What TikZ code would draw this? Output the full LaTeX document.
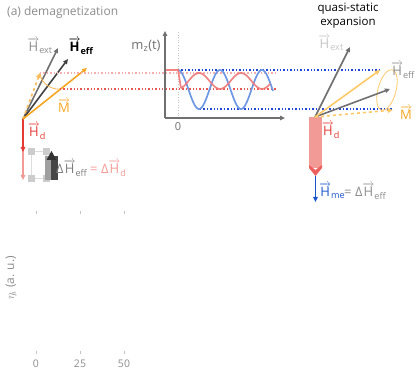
\documentclass[tikz,border=0pt]{standalone}
\usepackage{fontspec}
\setmainfont{Open Sans}
\usepackage{amsmath}
\usetikzlibrary{arrows.meta,shapes.geometric}
\definecolor{tgray}{HTML}{8C8C8C}
\definecolor{agray}{HTML}{707070}
\definecolor{dgray}{HTML}{404040}
\definecolor{lgray}{HTML}{C4C4C4}
\definecolor{orng}{HTML}{F5A623}
\definecolor{lorng}{HTML}{FFC868}
\definecolor{hred}{HTML}{E53935}
\definecolor{pinkr}{HTML}{F29A96}
\definecolor{plotred}{HTML}{F07676}
\definecolor{plotblue}{HTML}{6E98E4}
\definecolor{dblue}{HTML}{2147D8}
\definecolor{meblue}{HTML}{1A56CC}
\newcommand{\vH}{$\overrightarrow{\text{H}}$}
\newcommand{\vM}{$\overrightarrow{\text{M}}$}
\begin{document}
\begin{tikzpicture}[x=1pt,y=-1pt,
  font=\fontsize{13}{15}\selectfont,
  tip/.style={-{Triangle[length=5pt,width=4.5pt]}},
  vecarrow/.style={tip,line width=1.6pt},
  lbl/.style={inner sep=0pt,anchor=center},
  dotline/.style={line width=1.4pt,dotted},
  tick/.style={lgray,line width=0.6pt}]
\useasboundingbox (0,0) rectangle (415,390);

% title
\node[lbl,tgray,font=\fontsize{12}{14}\selectfont,anchor=west] (title) at (7,12) {(a) demagnetization};

% ---------- left vector diagram ----------
\coordinate (O) at (23,119);
\coordinate (hext) at (58,48);
\coordinate (heff) at (68,59);
\coordinate (mtip) at (87,68);
\coordinate (mdash) at (40,73);
\coordinate (mcone) at (60,89);
\coordinate (hdtip) at (23,152);
\coordinate (hdlong) at (23,180);

\draw[vecarrow,pinkr,line width=1.2pt] (O) -- (hdlong);
\draw[vecarrow,hred] (O) -- (hdtip);
\draw[vecarrow,agray] (O) -- (hext);
\draw[vecarrow,dgray] (O) -- (heff);
\draw[vecarrow,orng!75,dashed] (O) -- (mdash);
\draw[orng!80,line width=0.8pt] (mdash) .. controls (41,84) and (52,90) .. (mcone);
\draw[vecarrow,orng] (O) -- (mtip);

\node[lbl,tgray] (lhext) at (40,46) {\vH\textsubscript{ext}};
\node[lbl,black,font=\fontsize{13}{15}\bfseries] (lheff) at (81,46) {\vH\textsubscript{eff}};
\node[lbl,orng] (lm) at (64,106) {\vM};
\node[lbl,hred] (lhd) at (37,131) {\vH\textsubscript{d}};

% gray block with handles
\draw[lgray!60,line width=0.5pt] (31.5,151.5) rectangle (46.5,178.5);
\foreach \p/\n in {{(31.5,151.5)}/ha,{(46.5,151.5)}/hb,{(31.5,178.5)}/hc,{(46.5,178.5)}/hd}
  \node[fill=gray!40,minimum size=7pt,inner sep=0pt] (\n) at \p {};
\fill[gray!75] (45,156) rectangle (58,180);
\fill[gray!55!black] (51,180) rectangle (58,156);
\fill[black!80] (46.5,160) -- (51.5,151) -- (56.5,160) -- cycle;

\node[lbl,anchor=west,tgray!90!black] (ldheff) at (56,168) {Δ\vH\textsubscript{eff}};
\node[lbl,anchor=west,pinkr] (ldhd) at (90,168) {= Δ\vH\textsubscript{d}};

% ---------- plot ----------
\coordinate (ax0) at (165,118);
\coordinate (axy) at (165,31);
\coordinate (axx) at (285,118);
\draw[lgray,line width=0.6pt,dotted] (178,32) -- (178,118);
\draw[dotline,pinkr!80] (mdash) -- (276,73);
\draw[dotline,hred!85] (mcone) -- (276,89);
\draw[dotline,dblue] (178,70) -- (380,70);
\draw[dotline,dblue] (200,109) -- (393,109);

\draw[plotblue,line width=1.7pt] plot[domain=178:273,samples=120] (\x,{89.5-19.5*cos((\x-178)/42*360)});
\draw[plotred,line width=1.7pt,opacity=0.9] (166,70) -- (178,70) -- (181,88.2)
  plot[domain=181:270,samples=100] (\x,{81+8*cos((\x-178)/42*360)});

\draw[vecarrow,agray,line width=1.5pt] (ax0) -- (axy);
\draw[vecarrow,agray,line width=1.5pt] (ax0) -- (axx);
\node[lbl,agray] (lmz) at (146,46) {m\textsubscript{z}(t)};
\node[lbl,agray,font=\fontsize{11}{13}\selectfont] (l0) at (178,127) {0};

% ---------- right vector diagram ----------
\coordinate (P) at (315,117);
\coordinate (rhext) at (350,47);
\coordinate (rheff) at (390,89);
\coordinate (rm) at (380,70);
\coordinate (rmd) at (393,110);
\coordinate (bartip) at (315.5,176);
\coordinate (metip) at (315.5,202);

\fill[pinkr] (309,117) rectangle (322,168);
\fill[hred!80] (309,165) -- (315.5,170) -- (322,165) -- (322,168) -- (315.5,176) -- (309,168) -- cycle;
\draw[vecarrow,meblue,line width=1.5pt] (bartip) -- (metip);

\draw[lorng,line width=0.8pt,rotate around={-15:(387,90)}] (387,90) ellipse [x radius=9, y radius=21];
\draw[vecarrow,agray] (P) -- (rhext);
\draw[vecarrow,agray] (P) -- (rheff);
\draw[vecarrow,lorng] (P) -- (rm);
\draw[vecarrow,lorng,dashed] (P) -- (rmd);

\node[lbl,lgray] (rlhext) at (331,43) {\vH\textsubscript{ext}};
\node[lbl,tgray] (rlheff) at (403,70) {\vH\textsubscript{eff}};
\node[lbl,orng] (rlm) at (406,113) {\vM};
\node[lbl,hred] (rlhd) at (331,130) {\vH\textsubscript{d}};
\node[lbl,anchor=west,meblue] (rlhme) at (319,191) {\vH\textsubscript{me}};
\node[lbl,anchor=west,tgray] (rlheq) at (344,191) {= Δ\vH\textsubscript{eff}};
\node[lbl,black,align=center,font=\fontsize{11.5}{14}\selectfont] (qse) at (348,16) {quasi-static\\expansion};

% ---------- bottom axis ----------
\foreach \x/\t in {36/0,80/25,124/50}{
  \draw[tick] (\x,211.5) -- (\x,214.5);
  \draw[tick] (\x,350.5) -- (\x,353.5);
  \node[lbl,tgray,font=\fontsize{10.5}{12}\selectfont] (n\t) at (\x,364) {\t};
}
\node[lbl,tgray,rotate=90,font=\fontsize{12}{14}\selectfont] (ylab) at (11,278) {$\eta_i$ (a. u.)};
\end{tikzpicture}
\end{document}
